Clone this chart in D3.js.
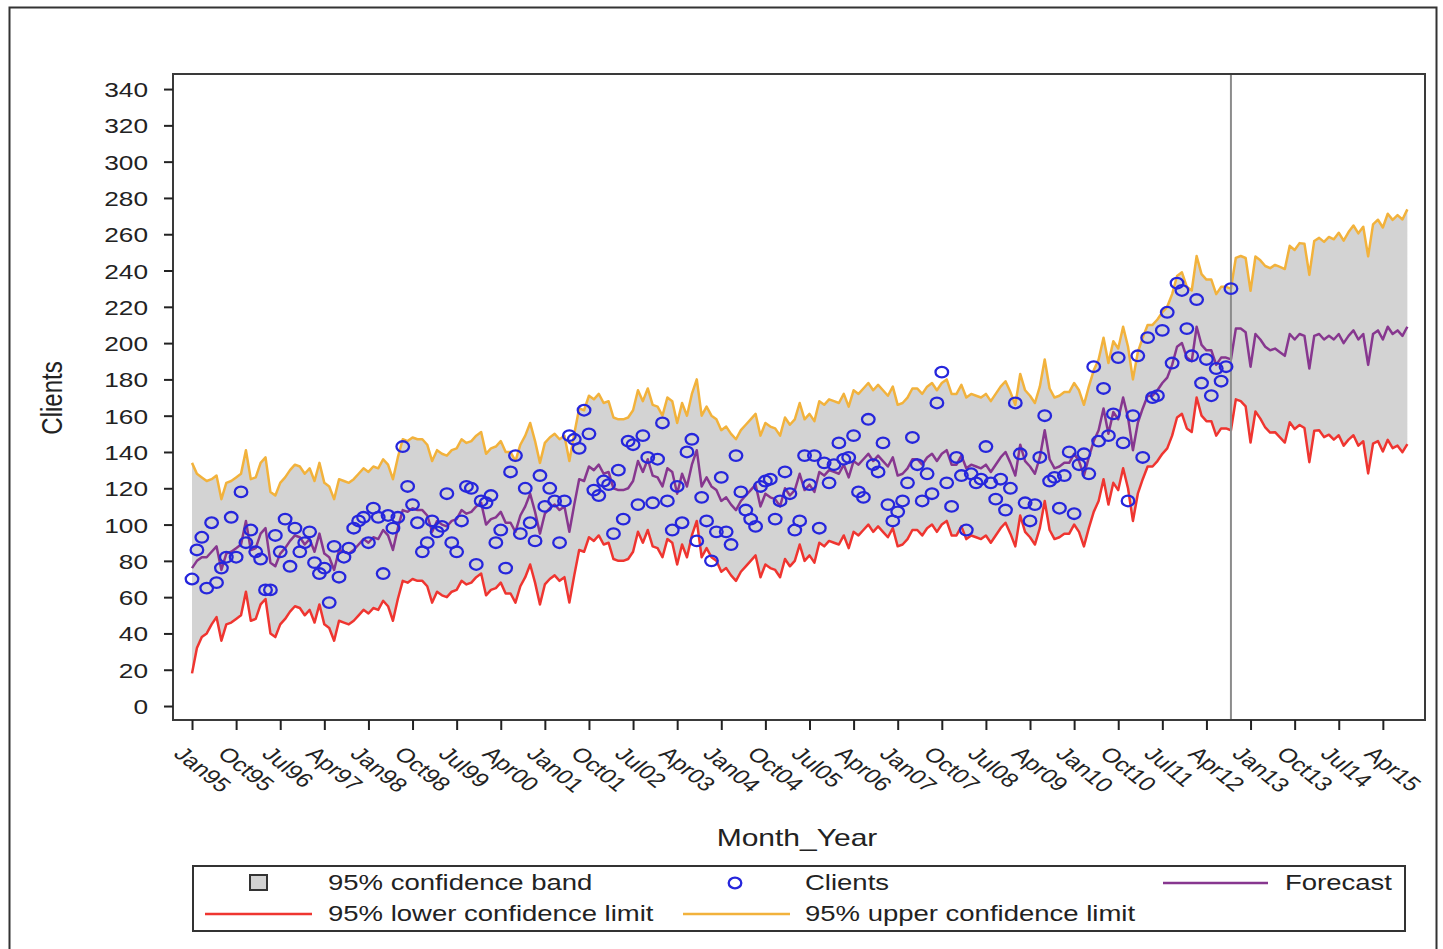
<!DOCTYPE html>
<html>
<head>
<meta charset="utf-8">
<script src="https://cdn.jsdelivr.net/npm/d3@7"></script>
<style>
  html, body { margin: 0; padding: 0; background: #fff; }
  svg { display: block; }
</style>
</head>
<body>
<svg id="chart" width="1443" height="949"></svg>
<script>
// Monthly client counts, Jan 1995 .. Sep 2012 (index 0 = Jan95)
const clients = [
  70,86,93,65,101,68,76,82,104,82,
  118,90,97,85,81,64,64,94,85,103,
  77,98,85,90,96,79,73,76,57,88,
  71,82,87,98,102,104,90,109,104,73,
  105,98,104,143,121,111,101,85,90,102,
  96,99,117,90,85,102,121,120,78,113,
  112,116,90,97,76,129,138,95,120,101,
  91,127,110,120,113,90,113,149,147,142,
  163,150,119,116,124,122,95,130,103,146,
  144,111,149,137,112,136,156,113,97,121,
  101,140,147,91,115,102,80,96,126,96,
  89,138,118,108,103,99,121,124,125,103,
  113,129,117,97,102,138,122,138,98,134,
  123,133,145,136,137,149,118,115,158,133,
  129,145,111,102,107,113,123,148,133,113,
  128,117,167,184,123,110,137,127,97,128,
  123,125,143,123,114,125,108,120,167,139,
  112,102,111,137,160,124,126,109,127,140,
  106,133,139,128,187,146,175,149,161,192,
  145,113,160,193,137,203,170,171,207,217,
  189,233,229,208,193,224,178,191,171,186,
  179,187,230
];

// Model forecast, Jan95 .. Sep15 (one-step-ahead in sample, then 36 months ahead)
const forecast = [
  76,80,82,82,85,88,75,84,85,87,
  89,102,86,87,95,98,79,77,84,87,
  91,94,93,89,92,85,95,84,82,75,
  86,85,84,86,89,92,90,93,92,97,
  94,86,98,108,107,109,108,108,105,96,
  102,100,99,102,103,108,106,107,110,112,
  100,103,104,107,101,101,96,105,110,117,
  107,95,106,109,111,108,110,96,111,125,
  124,132,130,133,128,129,120,119,119,120,
  124,135,129,136,127,126,121,131,129,117,
  128,121,133,141,121,126,121,119,113,115,
  111,108,113,116,119,122,110,117,115,114,
  110,120,116,119,128,119,122,118,129,127,
  130,129,128,133,126,135,133,136,139,135,
  138,135,132,137,127,128,131,136,136,133,
  137,139,135,139,141,133,133,138,131,133,
  132,131,133,129,133,137,140,134,127,144,
  135,132,128,137,152,136,131,132,134,134,
  139,135,127,137,146,152,164,150,162,158,
  170,159,141,156,164,171,171,174,178,181,
  188,198,200,192,190,209,199,196,196,188,
  192,192,191,208,208,206,187,205,202,198,
  196,197,195,193,205,202,205,204,186,204,
  205,202,204,202,205,200,204,207,202,205,
  188,205,207,202,209,205,207,204,209
];

// Half-width of the 95% confidence interval for each month
const limitHalfWidth = [
  58,48,44,42,40,39,39,39,39,39,
  39,39,39,39,39,39,39,39,39,39,
  39,39,39,39,39,39,39,39,39,39,
  39,39,39,39,39,39,39,39,39,39,
  39,39,39,39,39,39,39,39,39,39,
  39,39,39,39,39,39,39,39,39,39,
  39,39,39,39,39,39,39,39,39,39,
  39,39,39,39,39,39,39,39,39,39,
  39,39,39,39,39,39,39,39,39,39,
  39,39,39,39,39,39,39,39,39,39,
  39,39,39,39,39,39,39,39,39,39,
  39,39,39,39,39,39,39,39,39,39,
  39,39,39,39,39,39,39,39,39,39,
  39,39,39,39,39,39,39,39,39,39,
  39,39,39,39,39,39,39,39,39,39,
  39,39,39,39,39,39,39,39,39,39,
  39,39,39,39,39,39,39,39,39,39,
  39,39,39,39,39,39,39,39,39,39,
  39,39,39,39,39,39,39,39,39,39,
  39,39,39,39,39,39,39,39,39,39,
  39,39,39,39,39,39,39,39,39,39,
  39,39,39,39,40.0,40.9,41.8,42.7,43.6,44.5,
  45.3,46.1,47.0,47.8,48.6,49.3,50.1,50.8,51.6,52.3,
  53.0,53.8,54.5,55.2,55.8,56.5,57.2,57.8,58.5,59.1,
  59.8,60.4,61.0,61.7,62.3,62.9,63.5,64.1,64.7
];

// Last observed month (Sep 2012) — start of the forecast horizon
const lastObservedIndex = 212;

// Axis ticks
const xTickMonths = [0,9,18,27,36,45,54,63,72,81,90,99,108,117,126,135,144,153,162,171,180,189,198,207,216,225,234,243];
const xTickLabels = ["Jan95","Oct95","Jul96","Apr97","Jan98","Oct98","Jul99","Apr00","Jan01","Oct01",
  "Jul02","Apr03","Jan04","Oct04","Jul05","Apr06","Jan07","Oct07","Jul08","Apr09",
  "Jan10","Oct10","Jul11","Apr12","Jan13","Oct13","Jul14","Apr15"];
const yTickValues = [0,20,40,60,80,100,120,140,160,180,200,220,240,260,280,300,320,340];

// ---------------------------------------------------------------------------
const FONT = '"Liberation Sans", Arial, Helvetica, sans-serif';
const SX = 1.25;            // horizontal stretch applied to all lettering
const INK = "#222";
const COLORS = {
  band: "#d3d3d3",
  lower: "#ef3530",
  upper: "#f2b23c",
  forecast: "#87378f",
  clients: "#2626dc",
  ref: "#8c8c8c",
  frame: "#3a3a3a"
};
const LINE_W = 2.5;

const plot = { left: 173, right: 1425, top: 74, bottom: 720 };
const x = d3.scaleLinear().domain([-3.88, 251.6]).range([plot.left, plot.right]);
const y = d3.scaleLinear().domain([-7.7, 348.3]).range([plot.bottom, plot.top]);

const svg = d3.select("#chart").style("font-family", FONT);

// outer frame of the graphic
svg.append("rect")
  .attr("x", 9.5).attr("y", 7.5).attr("width", 1427).attr("height", 960)
  .attr("fill", "#fff").attr("stroke", "#333").attr("stroke-width", 2);

svg.append("defs").append("clipPath").attr("id", "plotClip")
  .append("rect")
  .attr("x", plot.left).attr("y", plot.top)
  .attr("width", plot.right - plot.left).attr("height", plot.bottom - plot.top);

const g = svg.append("g").attr("clip-path", "url(#plotClip)");

const months = d3.range(forecast.length);
const lowerOf = i => forecast[i] - limitHalfWidth[i];
const upperOf = i => forecast[i] + limitHalfWidth[i];

// confidence band
g.append("path").datum(months)
  .attr("fill", COLORS.band)
  .attr("d", d3.area().x(i => x(i)).y0(i => y(lowerOf(i))).y1(i => y(upperOf(i))));

const drawLine = (acc, color) =>
  g.append("path").datum(months)
    .attr("fill", "none").attr("stroke", color).attr("stroke-width", LINE_W)
    .attr("stroke-linejoin", "round")
    .attr("d", d3.line().x(i => x(i)).y(i => y(acc(i))));

drawLine(lowerOf, COLORS.lower);
drawLine(upperOf, COLORS.upper);
drawLine(i => forecast[i], COLORS.forecast);

// forecast-start reference line
g.append("line")
  .attr("x1", x(lastObservedIndex)).attr("x2", x(lastObservedIndex))
  .attr("y1", plot.top).attr("y2", plot.bottom)
  .attr("stroke", COLORS.ref).attr("stroke-width", 2);

// observed clients
g.append("g").selectAll("ellipse").data(clients).join("ellipse")
  .attr("cx", (d, i) => x(i)).attr("cy", d => y(d))
  .attr("rx", 6.3).attr("ry", 5.3)
  .attr("fill", "none").attr("stroke", COLORS.clients).attr("stroke-width", 2.3);

// plot frame
svg.append("rect")
  .attr("x", plot.left).attr("y", plot.top)
  .attr("width", plot.right - plot.left).attr("height", plot.bottom - plot.top)
  .attr("fill", "none").attr("stroke", COLORS.frame).attr("stroke-width", 2);

// y axis
const yAxis = svg.append("g").attr("transform", `translate(${plot.left},0)`)
  .call(d3.axisLeft(y).tickValues(yTickValues).tickSize(9).tickFormat(d3.format("d")));
yAxis.select(".domain").remove();
yAxis.selectAll(".tick line").attr("stroke", INK).attr("stroke-width", 2);
yAxis.selectAll(".tick text")
  .attr("x", null).attr("dy", null)
  .attr("transform", `translate(-25,7.5) scale(${SX},1)`)
  .attr("text-anchor", "end")
  .style("font-size", "21px").style("font-family", FONT).attr("fill", INK);

// x axis
const xAxis = svg.append("g").attr("transform", `translate(0,${plot.bottom})`)
  .call(d3.axisBottom(x).tickValues(xTickMonths).tickSize(10)
    .tickFormat((d, i) => xTickLabels[i]));
xAxis.select(".domain").remove();
xAxis.selectAll(".tick line").attr("stroke", INK).attr("stroke-width", 2);
xAxis.selectAll(".tick text")
  .attr("y", null).attr("dy", null)
  .attr("transform", `translate(-20,35) scale(${SX},1) rotate(45)`)
  .attr("text-anchor", "start")
  .style("font-size", "20px").style("font-family", FONT).attr("fill", INK);

// axis titles
svg.append("text")
  .attr("transform", `translate(797,846) scale(${SX},1)`)
  .attr("text-anchor", "middle").attr("fill", INK)
  .style("font-size", "24px").text("Month_Year");
svg.append("text")
  .attr("transform", `translate(62,398) scale(${SX},1) rotate(-90)`)
  .attr("text-anchor", "middle").attr("fill", INK)
  .style("font-size", "24px").text("Clients");

// legend
const lg = svg.append("g");
lg.append("rect")
  .attr("x", 193).attr("y", 866).attr("width", 1212).attr("height", 65)
  .attr("fill", "#fff").attr("stroke", "#333").attr("stroke-width", 2);

const legendText = (tx, ty, label) =>
  lg.append("text").attr("transform", `translate(${tx},${ty}) scale(${SX},1)`)
    .attr("fill", INK).style("font-size", "22px").text(label);

lg.append("rect").attr("x", 250).attr("y", 875).attr("width", 17).attr("height", 15)
  .attr("fill", COLORS.band).attr("stroke", "#333").attr("stroke-width", 2);
legendText(328, 890, "95% confidence band");

lg.append("ellipse").attr("cx", 735).attr("cy", 883).attr("rx", 6.3).attr("ry", 5.3)
  .attr("fill", "none").attr("stroke", COLORS.clients).attr("stroke-width", 2.3);
legendText(805, 890, "Clients");

lg.append("line").attr("x1", 1163).attr("x2", 1268).attr("y1", 883).attr("y2", 883)
  .attr("stroke", COLORS.forecast).attr("stroke-width", LINE_W);
legendText(1285, 890, "Forecast");

lg.append("line").attr("x1", 205).attr("x2", 312).attr("y1", 914).attr("y2", 914)
  .attr("stroke", COLORS.lower).attr("stroke-width", LINE_W);
legendText(328, 921, "95% lower confidence limit");

lg.append("line").attr("x1", 683).attr("x2", 790).attr("y1", 914).attr("y2", 914)
  .attr("stroke", COLORS.upper).attr("stroke-width", LINE_W);
legendText(805, 921, "95% upper confidence limit");
</script>
</body>
</html>
